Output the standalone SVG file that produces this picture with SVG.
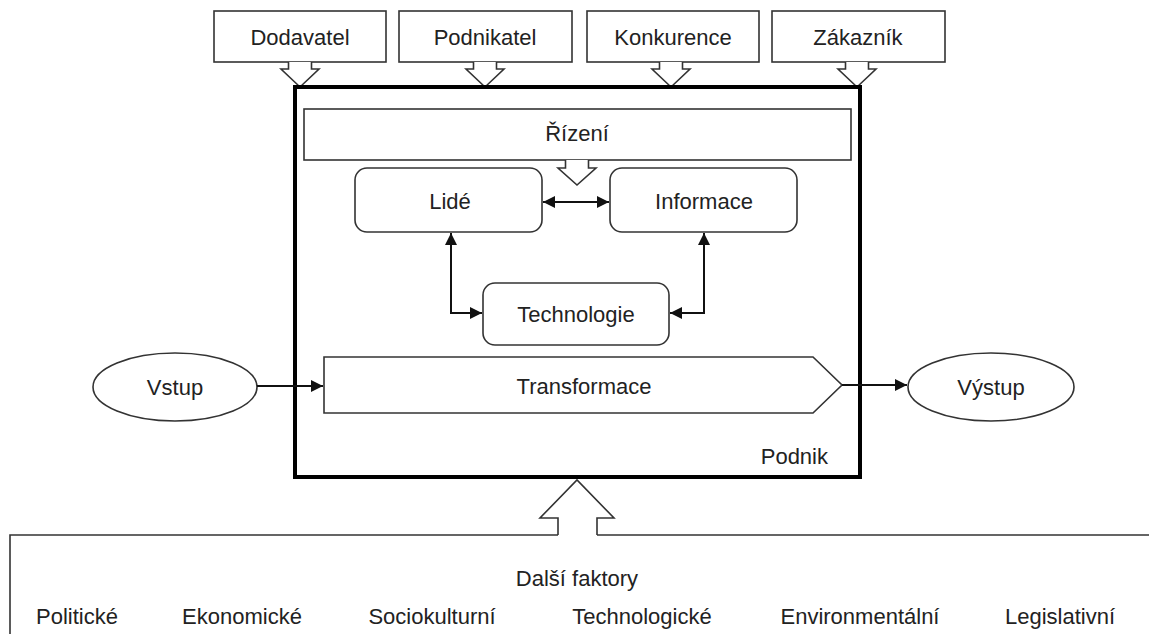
<svg xmlns="http://www.w3.org/2000/svg" width="1149" height="634" viewBox="0 0 1149 634">
<defs>
<style>
text{font-family:"Liberation Sans",Arial,sans-serif;font-size:22px;fill:#222;text-anchor:middle}
.box{fill:#fff;stroke:#333;stroke-width:1.6}
.call{fill:#fff;stroke:#333;stroke-width:1.6;stroke-linejoin:miter}
.con{fill:none;stroke:#111;stroke-width:2}
</style>
<marker id="ah" viewBox="0 0 12 12" refX="12" refY="6" markerWidth="12" markerHeight="12" markerUnits="userSpaceOnUse" orient="auto-start-reverse">
<path d="M0,0 L12,6 L0,12 Z" fill="#111"/>
</marker>
</defs>
<rect width="1149" height="634" fill="#fff"/>

<g id="dodavatel">
<rect class="box" x="214" y="11" width="172" height="51"/>
<path class="call" d="M288.5,62 V69 H281 L300,87 L319,69 H311.5 V62"/>
<text x="300" y="45">Dodavatel</text>
</g>
<g id="podnikatel">
<rect class="box" x="399" y="11" width="173" height="51"/>
<path class="call" d="M473.5,62 V69 H466 L485,87 L504,69 H496.5 V62"/>
<text x="485" y="45">Podnikatel</text>
</g>
<g id="konkurence">
<rect class="box" x="587" y="11" width="172" height="51"/>
<path class="call" d="M659.5,62 V69 H652 L671,87 L690,69 H682.5 V62"/>
<text x="673" y="45">Konkurence</text>
</g>
<g id="zakaznik">
<rect class="box" x="772" y="11" width="173" height="51"/>
<path class="call" d="M845.5,62 V69 H838 L857,87 L876,69 H868.5 V62"/>
<text x="858" y="45">Zákazník</text>
</g>

<g id="podnik">
<rect x="295" y="87" width="565" height="390" fill="none" stroke="#000" stroke-width="4"/>
<text x="828" y="464" style="text-anchor:end">Podnik</text>
</g>

<g id="rizeni">
<rect class="box" x="304" y="109" width="547" height="51"/>
<path class="call" d="M565.5,160 V168 H558 L577,185 L596,168 H588.5 V160"/>
<text x="577" y="141">Řízení</text>
</g>

<g id="lide">
<rect class="box" x="355" y="168" width="187" height="64" rx="12"/>
<text x="450" y="209">Lidé</text>
</g>
<g id="informace">
<rect class="box" x="610" y="168" width="187" height="64" rx="12"/>
<text x="704" y="209">Informace</text>
</g>
<g id="technologie">
<rect class="box" x="483" y="283" width="186" height="62" rx="12"/>
<text x="576" y="322">Technologie</text>
</g>

<g id="transformace">
<path class="box" d="M324,357 H813 L842,385 L813,413 H324 Z"/>
<text x="584" y="394">Transformace</text>
</g>

<g id="vstup">
<ellipse class="box" cx="175" cy="387" rx="82" ry="34"/>
<text x="175" y="395">Vstup</text>
</g>
<g id="vystup">
<ellipse class="box" cx="991" cy="387" rx="83" ry="34"/>
<text x="991" y="395">Výstup</text>
</g>

<g id="dalsi-faktory">
<path class="call" d="M558,535 V518 H540 L577,480 L614,518 H597 V535"/>
<path d="M1149,535 H597 M558,535 H10 V634" fill="none" stroke="#333" stroke-width="1.6"/>
<text x="577" y="586">Další faktory</text>
<text x="77" y="624">Politické</text>
<text x="242" y="624">Ekonomické</text>
<text x="432" y="624">Sociokulturní</text>
<text x="642" y="624">Technologické</text>
<text x="860" y="624">Environmentální</text>
<text x="1060" y="624">Legislativní</text>
</g>

<g id="connectors">
<path class="con" d="M543,202 H609" marker-start="url(#ah)" marker-end="url(#ah)"/>
<path class="con" d="M451,233 V313 H482" marker-start="url(#ah)" marker-end="url(#ah)"/>
<path class="con" d="M704,233 V313 H670" marker-start="url(#ah)" marker-end="url(#ah)"/>
<path class="con" d="M257,386 H323" marker-end="url(#ah)"/>
<path class="con" d="M842,385 H907" marker-end="url(#ah)"/>
</g>
</svg>
